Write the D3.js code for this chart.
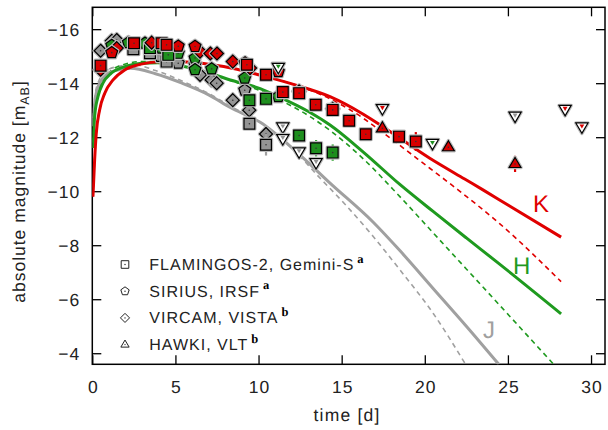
<!DOCTYPE html>
<html>
<head>
<meta charset="utf-8">
<script src="https://cdn.jsdelivr.net/npm/d3@7"></script>
<style>
  body { margin: 0; background: #fff; }
  text { font-family: "Liberation Sans", Arial, sans-serif; font-weight: 400; text-rendering: geometricPrecision; }
</style>
</head>
<body>
<script>
// ---- tick labels ----
const xTicks = [0, 5, 10, 15, 20, 25, 30];
const yTicks = [-16, -14, -12, -10, -8, -6, -4];

// ---- model light curves [time, mag] ----
const jModel = [[0.05,-12.4],[0.15,-13.3],[0.4,-13.95],[0.8,-14.28],[1.4,-14.47],[2.3,-14.55],[3.8,-14.35],[5.4,-14.0],[7,-13.57],[8.3,-13.1],[10.1,-12.55],[12.3,-11.45],[14.3,-10.3],[16.9,-8.85],[18.5,-7.8],[20.5,-6.4],[22.5,-5.0],[24.45,-3.59]];
const jModelDash = [[0.05,-12.7],[0.15,-13.5],[0.4,-14.1],[0.8,-14.42],[1.4,-14.6],[2.5,-14.68],[3.8,-14.47],[5.4,-14.08],[7,-13.62],[8.3,-13.15],[10.1,-12.55],[12,-11.6],[13.6,-10.55],[15.3,-9.45],[16.9,-8.32],[18.5,-7.09],[20.5,-5.48],[22.45,-3.59]];
const hModel = [[0.05,-11.6],[0.14,-12.76],[0.34,-13.5],[0.64,-14.0],[1.14,-14.37],[1.95,-14.61],[2.95,-14.74],[3.95,-14.76],[4.96,-14.68],[6.36,-14.5],[8.3,-14.12],[10.1,-13.8],[11.2,-13.5],[13,-12.95],[14.3,-12.45],[16.3,-11.45],[18.5,-10.25],[20.5,-9.25],[22.5,-8.27],[24.5,-7.3],[28.2,-5.46]];
const hModelDash = [[0.05,-11.8],[0.14,-12.95],[0.34,-13.65],[0.64,-14.12],[1.14,-14.47],[1.95,-14.7],[2.95,-14.8],[3.95,-14.8],[4.96,-14.7],[6.36,-14.5],[8.3,-14.1],[10.1,-13.72],[11.2,-13.4],[13,-12.8],[14.3,-12.25],[16.3,-11.2],[18.5,-9.8],[20.5,-8.46],[22.5,-7.12],[24.5,-5.78],[27.75,-3.59]];
const kModel = [[0.04,-9.8],[0.14,-11.16],[0.24,-12.15],[0.44,-13.01],[0.75,-13.63],[1.25,-14.12],[1.95,-14.49],[2.75,-14.68],[3.75,-14.78],[4.75,-14.81],[5.3,-14.8],[7.9,-14.62],[10.1,-14.3],[12.3,-13.92],[14.3,-13.5],[16.3,-12.85],[17.45,-12.4],[20.3,-11.22],[22.4,-10.45],[23.5,-10.05],[25.1,-9.45],[28.2,-8.3]];
const kModelDash = [[0.04,-9.8],[0.14,-11.16],[0.24,-12.15],[0.44,-13.01],[0.75,-13.63],[1.25,-14.12],[1.95,-14.49],[2.75,-14.68],[3.75,-14.78],[4.75,-14.81],[5.3,-14.8],[7.9,-14.62],[10.1,-14.3],[12.3,-13.92],[14.3,-13.42],[16.3,-12.7],[17.3,-12.25],[20.3,-10.85],[22,-10.05],[24.5,-8.8],[28.2,-6.65]];

// ---- observations [time, mag, err] ----
// J band
const jFlam = [[2.47,-15.26],[3.47,-15.11],[4.47,-14.8],[9.45,-12.5],[10.45,-11.72,0.4]];
const jSirius = [[4.1,-14.99],[5.17,-14.74],[6.18,-14.68],[9.17,-13.74]];
const jVircam = [[0.5,-15.2],[1.17,-15.57],[1.47,-15.6],[6.48,-14.31],[7.18,-14.12],[7.48,-14.0],[8.45,-13.37],[9.44,-13.0],[10.45,-12.12]];
const jLimit = [[11.46,-12.39],[11.46,-11.96],[12.44,-11.47],[13.46,-11.07],[25.43,-12.79]];
// H band
const hFlam = [[3.47,-15.3],[4.57,-15.05],[9.45,-13.37],[10.45,-13.42],[12.44,-12.06],[13.46,-11.59,0.3],[14.46,-11.43,0.3]];
const hSirius = [[1.17,-15.4],[2.17,-15.5],[3.17,-15.48],[4.17,-15.3],[5.17,-15.11],[6.18,-14.93],[6.18,-14.5],[7.18,-14.53],[9.17,-14.19],[11.19,-13.5]];
const hLimit = [[11.19,-14.6],[20.46,-11.78]];
// K band
const kFlam = [[0.5,-14.65],[2.51,-15.48],[4.17,-15.48],[4.47,-15.42],[9.3,-14.68],[10.45,-14.31],[11.46,-13.67],[12.44,-13.63],[13.44,-13.2],[14.46,-13.01],[15.45,-12.61],[16.45,-12.11],[18.45,-12.02],[19.46,-11.84,0.35]];
const kSirius = [[1.17,-15.13],[5.17,-15.37],[6.18,-15.36],[9.19,-14.75],[11.19,-14.43]];
const kVircam = [[0.5,-14.5],[1.47,-15.3],[3.57,-15.5],[6.48,-15.17],[7.1,-15.1],[7.5,-15.1],[8.45,-14.8],[9.49,-14.56],[12.44,-13.7],[14.46,-13.05]];
const kHawki = [[17.45,-12.33],[21.42,-11.63],[25.43,-11.01,0.3]];
const kLimit = [[17.45,-13.07],[28.44,-13.04],[29.45,-12.39]];

const legendNames = ["FLAMINGOS-2, Gemini-S", "SIRIUS, IRSF", "VIRCAM, VISTA", "HAWKI, VLT"];
const legendNotes = ["a", "a", "b", "b"];

const lineColor = {J: "#a0a0a0", H: "#1f9a1f", K: "#e00000"};
const fillColor = {J: "#949494", H: "#1e8e1e", K: "#d80000"};
const ink = "#222";

const W = 608, H = 430;
const svg = d3.select("body").append("svg").attr("width", W).attr("height", H);

const x = d3.scaleLinear().domain([0, 30.84]).range([92.3, 605]);
const y = d3.scaleLinear().domain([-3.59, -16.81]).range([364.3, 7.3]);
const [x0, x1] = x.range(), [y0, y1] = y.range();

svg.append("clipPath").attr("id", "clip")
  .append("rect").attr("x", x0).attr("y", y1).attr("width", x1 - x0).attr("height", y0 - y1);

// ---- axes ----
function styleAxis(g) {
  g.select(".domain").remove();
  g.selectAll("line").attr("stroke", "#000").attr("stroke-width", 1.3);
  g.selectAll("text").attr("fill", ink)
    .style("font-family", '"Liberation Sans", Arial, sans-serif')
    .style("font-size", "17.5px").style("letter-spacing", "1px");
}
const gx = svg.append("g").attr("transform", `translate(0,${y0})`)
  .call(d3.axisBottom(x).tickValues(xTicks).tickSizeInner(-9).tickSizeOuter(0));
styleAxis(gx);
gx.selectAll("text").attr("y", 29).attr("dy", null).attr("dx", "0.5px");

svg.append("g").attr("transform", `translate(0,${y1})`)
  .call(d3.axisTop(x).tickValues(xTicks).tickSizeInner(-9).tickSizeOuter(0).tickFormat(""))
  .call(styleAxis);

const gy = svg.append("g").attr("transform", `translate(${x0},0)`)
  .call(d3.axisLeft(y).tickValues(yTicks).tickSizeInner(-9).tickSizeOuter(0));
styleAxis(gy);
gy.selectAll("text").attr("x", -12).attr("dy", "0.35em");

svg.append("g").attr("transform", `translate(${x1},0)`)
  .call(d3.axisRight(y).tickValues(yTicks).tickSizeInner(-9).tickSizeOuter(0).tickFormat(""))
  .call(styleAxis);

svg.append("rect").attr("x", x0).attr("y", y1).attr("width", x1 - x0).attr("height", y0 - y1)
  .attr("fill", "none").attr("stroke", "#000").attr("stroke-width", 1.5);

// axis titles
svg.append("text").attr("x", 347).attr("y", 421).attr("fill", ink)
  .attr("text-anchor", "middle").style("font-size", "17.5px").style("letter-spacing", "1.2px")
  .text("time [d]");
const yt = svg.append("text").attr("transform", "translate(25,191.5) rotate(-90)").attr("fill", ink)
  .attr("text-anchor", "middle").style("font-size", "17.5px").style("letter-spacing", "1px");
yt.append("tspan").text("absolute magnitude [m");
yt.append("tspan").attr("dy", 4).style("font-size", "12.5px").text("AB");
yt.append("tspan").attr("dy", -4).text("]");

// ---- models ----
const line = d3.line().x(d => x(d[0])).y(d => y(d[1])).curve(d3.curveMonotoneX);
const curves = svg.append("g").attr("clip-path", "url(#clip)");
[[jModelDash, "J"], [hModelDash, "H"], [kModelDash, "K"]].forEach(([data, b]) => {
  curves.append("path").datum(data).attr("d", line).attr("fill", "none")
    .attr("stroke", lineColor[b]).attr("stroke-width", 1.6).attr("stroke-dasharray", "5,4");
});
[[jModel, "J"], [hModel, "H"], [kModel, "K"]].forEach(([data, b]) => {
  curves.append("path").datum(data).attr("d", line).attr("fill", "none")
    .attr("stroke", lineColor[b]).attr("stroke-width", 3);
});

// band labels
[["K", 533, 212], ["H", 513, 274], ["J", 483, 338]].forEach(([b, lx, ly]) => {
  svg.append("text").attr("x", lx).attr("y", ly).style("font-size", "24px")
    .attr("fill", lineColor[b]).text(b);
});

// ---- marker shapes ----
function poly(pts) { return "M" + pts.map(p => p[0].toFixed(2) + "," + p[1].toFixed(2)).join("L") + "Z"; }
function shapePath(type, s) {
  if (type === "square") return poly([[-s, -s], [s, -s], [s, s], [-s, s]]);
  if (type === "diamond") { const d = s * 1.2; return poly([[0, -d], [d, 0], [0, d], [-d, 0]]); }
  if (type === "pentagon") {
    const r = s * 1.15;
    return poly(d3.range(5).map(k => { const a = -Math.PI / 2 + k * 2 * Math.PI / 5; return [r * Math.cos(a), r * Math.sin(a)]; }));
  }
  if (type === "triangle") { const r = s * 1.2; return poly([[0, -r], [r * 0.866 * 1.05, r * 0.55], [-r * 0.866 * 1.05, r * 0.55]]); }
  if (type === "down") { const r = s * 1.2; return poly([[0, r], [r * 0.866 * 1.05, -r * 0.55], [-r * 0.866 * 1.05, -r * 0.55]]); }
}

const marks = svg.append("g");
function drawSet(data, type, band) {
  const g = marks.append("g");
  g.selectAll("line.err").data(data.filter(d => d[2])).join("line")
    .attr("x1", d => x(d[0])).attr("x2", d => x(d[0]))
    .attr("y1", d => y(d[1] - d[2])).attr("y2", d => y(d[1] + d[2]))
    .attr("stroke", lineColor[band]).attr("stroke-width", 2.2);
  const m = g.selectAll("g.m").data(data).join("g")
    .attr("transform", d => `translate(${x(d[0])},${y(d[1])})`);
  m.append("path").attr("d", shapePath(type, 5.4)).attr("fill", "none")
    .attr("stroke", "#bdbdbd").attr("stroke-width", 3.5).attr("stroke-linejoin", "round");
  m.append("path").attr("d", shapePath(type, 5.4)).attr("fill", fillColor[band])
    .attr("stroke", "#000").attr("stroke-width", 1.2);
  m.append("circle").attr("r", 0.8).attr("fill", "#333");
}
function drawLimits(data, band) {
  const m = marks.append("g").selectAll("g").data(data).join("g")
    .attr("transform", d => `translate(${x(d[0])},${y(d[1])})`);
  m.append("path").attr("d", shapePath("down", 5.6)).attr("fill", "none")
    .attr("stroke", "#bdbdbd").attr("stroke-width", 3.5).attr("stroke-linejoin", "round");
  m.append("path").attr("d", shapePath("down", 5.6)).attr("fill", "#fff")
    .attr("stroke", "#000").attr("stroke-width", 1.2);
  m.append("path").attr("d", shapePath("down", 2.2)).attr("transform", "translate(0,-0.8)")
    .attr("fill", fillColor[band]);
}

drawSet(jVircam, "diamond", "J");
drawSet(jSirius, "pentagon", "J");
drawSet(jFlam, "square", "J");
drawSet(hSirius, "pentagon", "H");
drawSet(hFlam, "square", "H");
drawSet(kVircam, "diamond", "K");
drawSet(kSirius, "pentagon", "K");
drawSet(kFlam, "square", "K");
drawSet(kHawki, "triangle", "K");
drawLimits(jLimit, "J");
drawLimits(hLimit, "H");
drawLimits(kLimit, "K");

// ---- legend ----
const legendShapes = ["square", "pentagon", "diamond", "triangle"];
const legend = svg.append("g");
legendNames.forEach((name, i) => {
  const by = 270 + i * 26.7;
  const g = legend.append("g");
  g.append("path").attr("d", shapePath(legendShapes[i], 3.8))
    .attr("transform", `translate(125,${by - 5.5})`)
    .attr("fill", "#fff").attr("stroke", "#222").attr("stroke-width", 1);
  g.append("circle").attr("cx", 125).attr("cy", by - 5.5).attr("r", 0.7).attr("fill", "#222");
  const t = g.append("text").attr("x", 149.3).attr("y", by).attr("fill", ink)
    .style("font-size", "16px").style("letter-spacing", "1px").text(name);
  const w = t.node().getComputedTextLength();
  g.append("text").attr("x", 149.3 + w + 3).attr("y", by - 7.5)
    .style("font-family", '"Liberation Serif", "DejaVu Serif", serif')
    .style("font-weight", "bold").style("font-size", "12.5px").text(legendNotes[i]);
});
</script>
</body>
</html>
